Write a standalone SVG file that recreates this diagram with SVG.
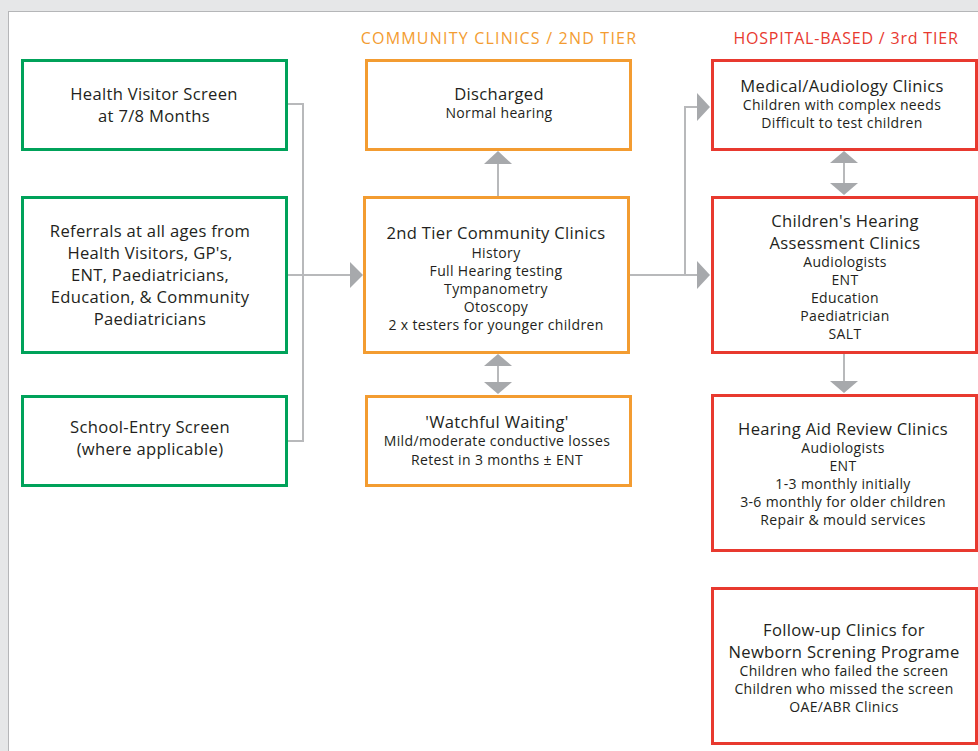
<svg xmlns="http://www.w3.org/2000/svg" width="978" height="751" viewBox="0 0 978 751">
<style>
text{font-family:"Open Sans","Noto Sans","DejaVu Sans",sans-serif;fill:#231f20;text-anchor:middle}
.t{font-size:16.6px;letter-spacing:0.3px}
.b{font-size:14px;letter-spacing:0.35px}
.h{font-size:16px;letter-spacing:1.2px}
.g{fill:#fff;stroke:#00a25a;stroke-width:3}
.o{fill:#fff;stroke:#f39c31;stroke-width:3}
.r{fill:#fff;stroke:#e8392f;stroke-width:3}
.ln{fill:none;stroke:#b8b9bb;stroke-width:2}
.ah{fill:#a7a9ac}
</style>
<rect x="0" y="0" width="978" height="751" fill="#e6e7e8"/>
<rect x="8.5" y="11.5" width="975" height="745" fill="#fff" stroke="#b5b6b8" stroke-width="1"/>
<text class="h" x="499" y="44" style="fill:#f39c31">COMMUNITY CLINICS / 2ND TIER</text>
<text class="h" x="846" y="44" style="fill:#e8392f;letter-spacing:0.8px">HOSPITAL-BASED / 3rd TIER</text>
<g id="connectors">
<polyline class="ln" points="287,104 303,104 303,441 287,441"/>
<line class="ln" x1="287" y1="275" x2="352" y2="275"/>
<polygon class="ah" points="350,262 363,275 350,288"/>
<line class="ln" x1="498" y1="197" x2="498" y2="162"/>
<polygon class="ah" points="484,164 498,151 512,164"/>
<line class="ln" x1="498" y1="364" x2="498" y2="384"/>
<polygon class="ah" points="484,366 498,354 512,366"/>
<polygon class="ah" points="484,382 498,394 512,382"/>
<polyline class="ln" points="629,275 685,275 685,107 699,107"/>
<line class="ln" x1="685" y1="275" x2="699" y2="275"/>
<polygon class="ah" points="697,93 710,107 697,121"/>
<polygon class="ah" points="697,261 710,275 697,289"/>
<line class="ln" x1="844" y1="161" x2="844" y2="185"/>
<polygon class="ah" points="830,163 844,151 858,163"/>
<polygon class="ah" points="830,183 844,195 858,183"/>
<line class="ln" x1="844" y1="353" x2="844" y2="383"/>
<polygon class="ah" points="830,381 844,393 858,381"/>
</g>
<g id="health-visitor">
<rect class="g" x="22.5" y="60.5" width="264" height="89"/>
<text class="t" x="154" y="100">Health Visitor Screen</text>
<text class="t" x="154" y="122">at 7/8 Months</text>
</g>
<g id="referrals">
<rect class="g" x="22.5" y="197.5" width="264" height="155"/>
<text class="t" x="150" y="237">Referrals at all ages from</text>
<text class="t" x="150" y="259">Health Visitors, GP's,</text>
<text class="t" x="150" y="281">ENT, Paediatricians,</text>
<text class="t" x="150" y="303">Education, &amp; Community</text>
<text class="t" x="150" y="325">Paediatricians</text>
</g>
<g id="school-entry">
<rect class="g" x="22.5" y="396.5" width="264" height="89"/>
<text class="t" x="150" y="433">School-Entry Screen</text>
<text class="t" x="150" y="455">(where applicable)</text>
</g>
<g id="discharged">
<rect class="o" x="366.5" y="60.5" width="264" height="89"/>
<text class="t" x="499" y="100">Discharged</text>
<text class="b" x="499" y="118">Normal hearing</text>
</g>
<g id="second-tier">
<rect class="o" x="364.5" y="197.5" width="264" height="155"/>
<text class="t" x="496" y="239">2nd Tier Community Clinics</text>
<text class="b" x="496" y="258">History</text>
<text class="b" x="496" y="276">Full Hearing testing</text>
<text class="b" x="496" y="294">Tympanometry</text>
<text class="b" x="496" y="312">Otoscopy</text>
<text class="b" x="496" y="330">2 x testers for younger children</text>
</g>
<g id="watchful-waiting">
<rect class="o" x="366.5" y="396.5" width="264" height="89"/>
<text class="t" x="497" y="428">'Watchful Waiting'</text>
<text class="b" x="497" y="446">Mild/moderate conductive losses</text>
<text class="b" x="497" y="465">Retest in 3 months ± ENT</text>
</g>
<g id="medical-audiology">
<rect class="r" x="712.5" y="60.5" width="264" height="89"/>
<text class="t" x="842" y="92">Medical/Audiology Clinics</text>
<text class="b" x="842" y="110">Children with complex needs</text>
<text class="b" x="842" y="128">Difficult to test children</text>
</g>
<g id="childrens-hearing">
<rect class="r" x="712.5" y="197.5" width="264" height="155"/>
<text class="t" x="845" y="227">Children's Hearing</text>
<text class="t" x="845" y="249">Assessment Clinics</text>
<text class="b" x="845" y="267">Audiologists</text>
<text class="b" x="845" y="285">ENT</text>
<text class="b" x="845" y="303">Education</text>
<text class="b" x="845" y="321">Paediatrician</text>
<text class="b" x="845" y="339">SALT</text>
</g>
<g id="hearing-aid-review">
<rect class="r" x="712.5" y="395.5" width="264" height="155"/>
<text class="t" x="843" y="435">Hearing Aid Review Clinics</text>
<text class="b" x="843" y="453">Audiologists</text>
<text class="b" x="843" y="471">ENT</text>
<text class="b" x="843" y="489">1-3 monthly initially</text>
<text class="b" x="843" y="507">3-6 monthly for older children</text>
<text class="b" x="843" y="525">Repair &amp; mould services</text>
</g>
<g id="follow-up">
<rect class="r" x="712.5" y="588.5" width="264" height="155"/>
<text class="t" x="844" y="636">Follow-up Clinics for</text>
<text class="t" x="844" y="658">Newborn Screning Programe</text>
<text class="b" x="844" y="676">Children who failed the screen</text>
<text class="b" x="844" y="694">Children who missed the screen</text>
<text class="b" x="844" y="712">OAE/ABR Clinics</text>
</g>
</svg>
